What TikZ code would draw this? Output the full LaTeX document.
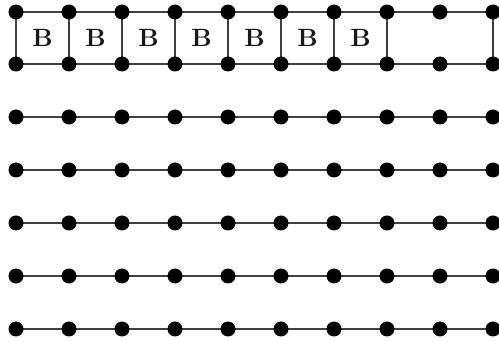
\documentclass[tikz,border=0pt]{standalone}
\usepackage{fontspec}
\newfontfamily\bfont{lmroman10-bold}[Extension=.otf]
\begin{document}
\begin{tikzpicture}[x=1pt,y=-1pt,
  dot/.style={circle,fill=black,inner sep=0pt,minimum size=15pt},
  edge/.style={draw=black!75,line width=1.8pt},
  lbl/.style={text=black!90,inner sep=0pt,font=\bfont\fontsize{25}{25}\selectfont}]
\useasboundingbox (0,0) rectangle (499,342);
% top ladder
\foreach \i in {0,...,9}{
  \coordinate (t\i) at ({16+53*\i},12);
  \coordinate (b\i) at ({16+53*\i},64);
}
\foreach \i [evaluate=\i as \j using int(\i+1)] in {0,...,8}{
  \draw[edge] (t\i) -- (t\j);
  \draw[edge] (b\i) -- (b\j);
}
\foreach \i in {0,...,7,9}{
  \draw[edge] (t\i) -- (b\i);
}
\foreach \i in {0,...,9}{
  \node[dot] (T\i) at (t\i) {};
  \node[dot] (B\i) at (b\i) {};
}
\foreach \i in {0,...,6}{
  \node[lbl] (L\i) at ({42.5+53*\i},38) {B};
}
% lower rows
\foreach \r in {0,...,4}{
  \foreach \i in {0,...,9}{
    \coordinate (r\r c\i) at ({16+53*\i},{117+53*\r});
  }
  \foreach \i [evaluate=\i as \j using int(\i+1)] in {0,...,8}{
    \draw[edge] (r\r c\i) -- (r\r c\j);
  }
  \foreach \i in {0,...,9}{
    \node[dot] (R\r C\i) at (r\r c\i) {};
  }
}
\end{tikzpicture}
\end{document}
